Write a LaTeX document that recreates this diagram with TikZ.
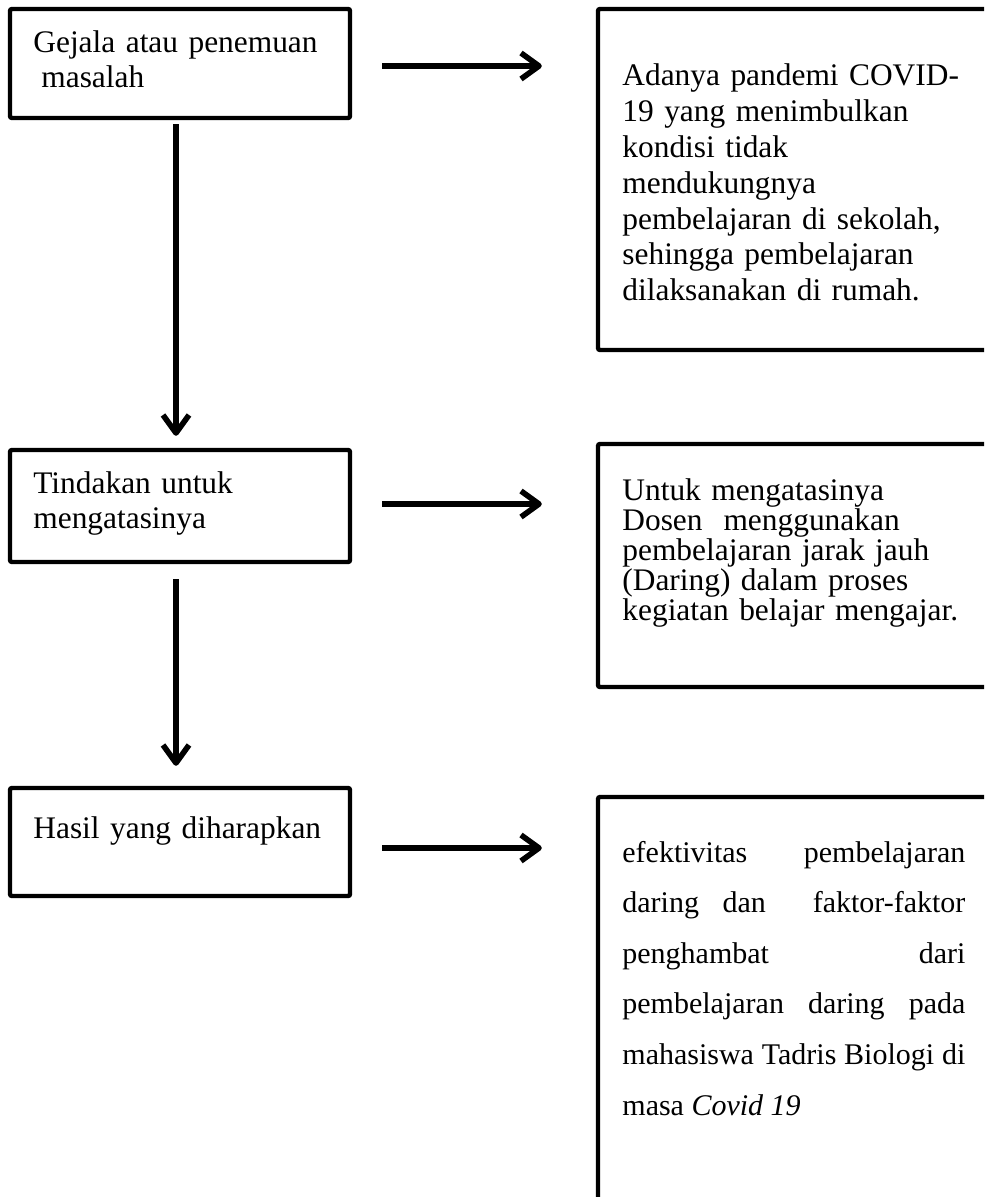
\documentclass[tikz,border=0pt]{standalone}
\usepackage{fontspec}
\setmainfont{Liberation Serif}
\usetikzlibrary{arrows.meta,positioning}
\tikzset{
  box/.style={draw, line width=2.2pt, rounded corners=1pt, inner sep=0pt},
  txt/.style={anchor=base west, inner sep=0pt, align=left, text width=#1},
  arr/.style={line width=2.8pt, line join=round, -{Straight Barb[length=9pt,width=13pt,line join=round]}},
}

\begin{document}
\begin{tikzpicture}[x=0.5pt,y=-0.5pt]
                        \clip (0,0) rectangle (984,1197);
                        {\fontsize{15.7pt}{17.5pt}\selectfont

                        % Left column: boxes
                        \node [box, minimum width=170pt, minimum height=54.5pt] (gejala) at (180,63.5) {};%
                        \node [box, minimum width=170pt, minimum height=56pt] (tindakan) at (180,506) {};%
                        \node [box, minimum width=170pt, minimum height=54pt] (hasil) at (180,842) {};%

                        % Left column: texts
                        \node [txt=170pt] (gejalaTxt) at (33,53) {Gejala atau penemuan\\\hspace*{4pt}masalah};%
                        \node [txt=170pt] (tindakanTxt) at (33,493) {Tindakan untuk\\mengatasinya};%
                        \node [txt=170pt] (hasilTxt) at (33,838) {Hasil yang diharapkan};%

                        % Right column: boxes
                        \node [box, minimum width=206pt, minimum height=170.5pt] (pandemi) at (804,179.5) {};%
                        \node [box, minimum width=206pt, minimum height=121.5pt] (daring) at (804,565.5) {};%
                        \node [box, minimum width=206pt, minimum height=209pt] (harapan) at (804,1006) {};%

                        % Right column: texts
                        \node [txt=180pt, font={\fontsize{15.7pt}{17.9pt}\selectfont}] (pandemiTxt) at (622,86)
                          {Adanya pandemi COVID-\\19 yang menimbulkan\\kondisi tidak\\mendukungnya\\pembelajaran di sekolah,\\sehingga pembelajaran\\dilaksanakan di rumah.};%
                        \node [txt=180pt, font={\fontsize{15.7pt}{15pt}\selectfont}] (daringTxt) at (622,500)
                          {Untuk mengatasinya\\Dosen\ \ menggunakan\\pembelajaran jarak jauh\\(Daring) dalam proses\\kegiatan belajar mengajar.};%
                        \node [txt=171.5pt, align=justify, font={\fontsize{15pt}{25.3pt}\selectfont}] (harapanTxt) at (622,862)
                          {efektivitas pembelajaran\linebreak daring dan\ \ faktor-faktor\linebreak penghambat dari\linebreak
                           pembelajaran daring pada\linebreak \makebox[\linewidth][s]{mahasiswa Tadris Biologi di}\linebreak masa \textit{Covid 19}};%

                        % Drawing line gejala tindakan
                        \draw [arr, shorten <=2pt, shorten >=6pt] ([xshift=-2pt]gejala.south) -- ([xshift=-2pt]tindakan.north);%
                        % Drawing line tindakan hasil
                        \draw [arr, shorten <=7.5pt, shorten >=10pt] ([xshift=-2pt]tindakan.south) -- ([xshift=-2pt]hasil.north);%

                        % Drawing lines to the right column
                        \draw [arr, shorten <=15pt, shorten >=27pt] (gejala.east |- 0,66) -- (pandemi.west |- 0,66);%
                        \draw [arr, shorten <=15pt, shorten >=27pt] (tindakan.east |- 0,504) -- (daring.west |- 0,504);%
                        \draw [arr, shorten <=15pt, shorten >=27pt] (hasil.east |- 0,848) -- (harapan.west |- 0,848);%
                        }
\end{tikzpicture}
\end{document}
